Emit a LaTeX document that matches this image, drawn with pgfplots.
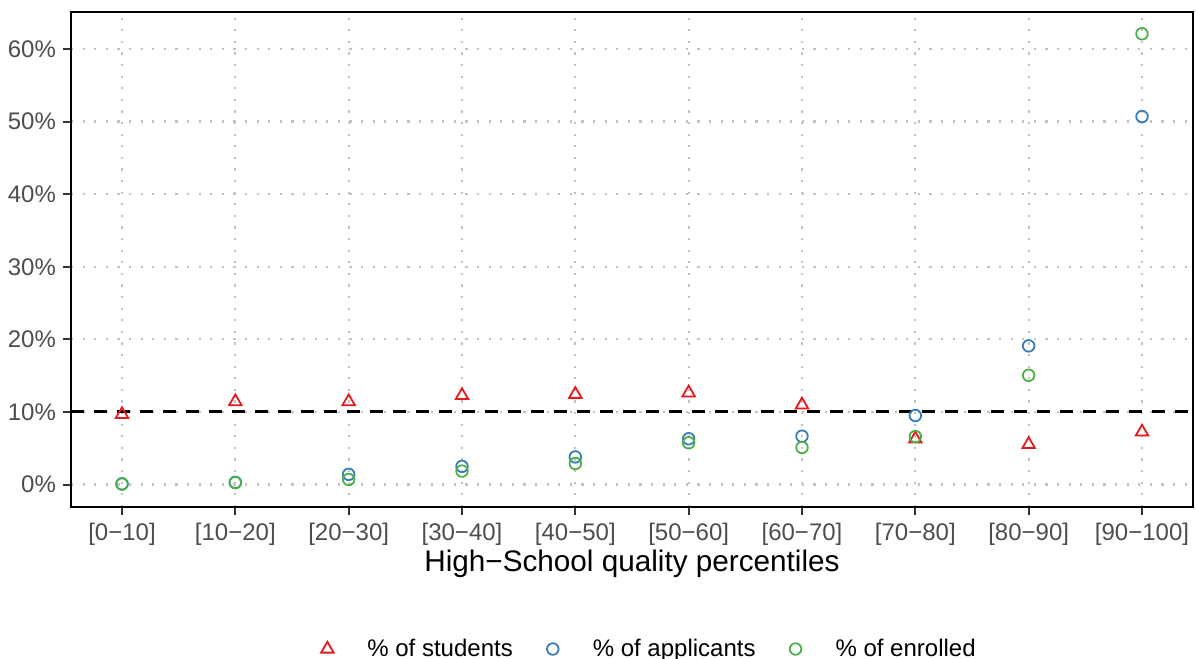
\documentclass[border=0pt]{standalone}
\usepackage{pgfplots}
\pgfplotsset{compat=1.18}
\usepackage{fontspec}
\setmainfont{Liberation Sans}
\definecolor{cred}{HTML}{E41A1C}
\definecolor{cblue}{HTML}{377EB8}
\definecolor{cgreen}{HTML}{4DAF4A}
\definecolor{tickgray}{HTML}{4D4D4D}
\definecolor{gridgray}{HTML}{C2C2C2}
\begin{document}
\begin{tikzpicture}
\begin{axis}[
 at={(0,0)}, anchor=south west,
 scale only axis, width=561pt, height=247.5pt,
 xmin=-0.45, xmax=9.45, ymin=-3.1, ymax=65.1,
 xtick={0,...,9},
 xticklabels={[0−10],[10−20],[20−30],[30−40],[40−50],[50−60],[60−70],[70−80],[80−90],[90−100]},
 ytick={0,10,...,60},
 yticklabels={0\%,10\%,20\%,30\%,40\%,50\%,60\%},
 tick pos=left,
 tick align=outside, major tick length=4pt,
 tick style={color=black!80, line width=1pt},
 axis line style={line width=1.2pt},
 grid=major, grid style={gridgray, line width=1.1pt, dash pattern=on 1.1pt off 4.7pt},
 ticklabel style={font=\fontsize{12}{14}\selectfont, text=tickgray},
 yticklabel style={anchor=east, xshift=0pt},
 xticklabel style={yshift=-0.5pt},
 xlabel={High−School quality percentiles},
 xlabel style={font=\fontsize{14.85}{17}\selectfont, at={(axis description cs:0.5,-0.1151)}, anchor=center},
 legend columns=3,
 legend image code/.code={\path[draw=none,fill=none] (-20pt,0)--(20pt,0); \draw[mark repeat=1,#1] plot coordinates {(0pt,0pt)};},
 legend style={draw=none, fill=none, inner sep=0pt, at={(axis description cs:0.1925,-0.2869)}, anchor=west,
   font=\fontsize{12}{14}\selectfont, nodes={inner sep=0pt}},
 legend cell align=left,
]
\addplot[black, line width=1.5pt, dash pattern=on 6.5pt off 5pt, forget plot] coordinates {(-0.45,10) (9.45,10)};
\addplot[only marks, mark=triangle, mark size=3.6pt, cred, line width=0.9pt] coordinates {
(0,9.65) (1,11.42) (2,11.42) (3,12.27) (4,12.43) (5,12.63) (6,10.97) (7,6.27) (8,5.52) (9,7.24)};
\addlegendentry{\% of students}
\addplot[only marks, mark=o, mark size=2.9pt, cblue, line width=0.9pt] coordinates {
(0,0.1) (1,0.3) (2,1.4) (3,2.5) (4,3.8) (5,6.3) (6,6.65) (7,9.5) (8,19.1) (9,50.7)};
\addlegendentry{\% of applicants}
\addplot[only marks, mark=o, mark size=2.9pt, cgreen, line width=0.9pt] coordinates {
(0,0.05) (1,0.25) (2,0.7) (3,1.85) (4,2.9) (5,5.75) (6,5.1) (7,6.6) (8,15.05) (9,62.1)};
\addlegendentry{\% of enrolled}
\end{axis}
\pgfresetboundingbox
\path (-35.5pt,-76pt) rectangle (562.5pt,253.5pt);
\end{tikzpicture}
\end{document}
